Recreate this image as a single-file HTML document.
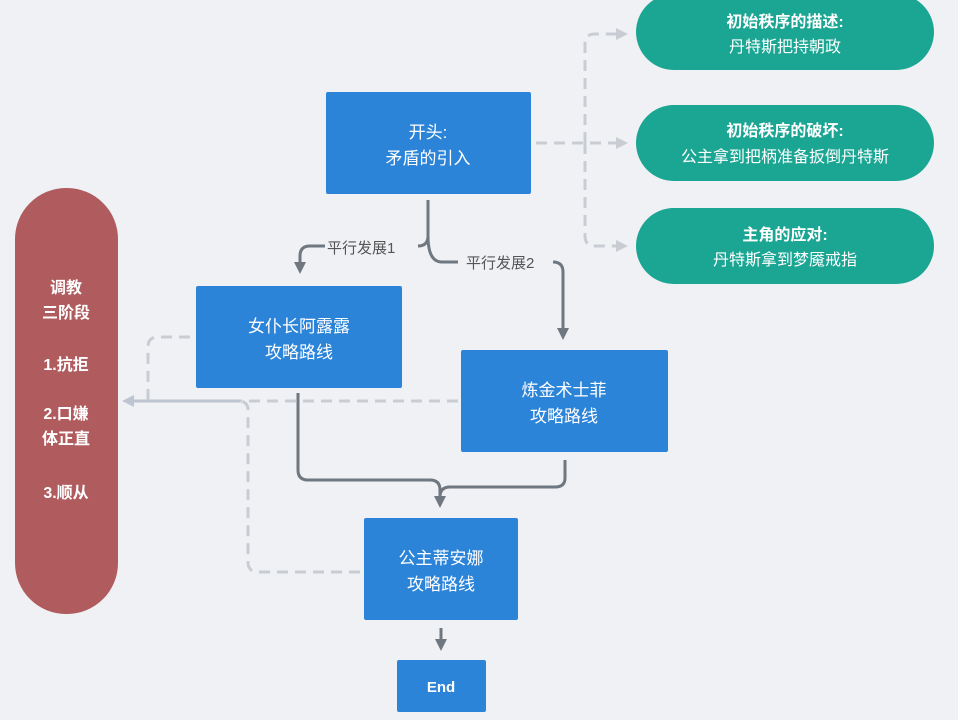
<!DOCTYPE html>
<html><head><meta charset="utf-8"><style>
html,body{margin:0;padding:0;background:#eff1f4;}
svg{display:block;font-family:"Liberation Sans","Noto Sans CJK SC",sans-serif;}
</style></head><body>
<svg width="958" height="720" viewBox="0 0 958 720" xmlns="http://www.w3.org/2000/svg">
<defs>
<marker id="ag" markerWidth="12" markerHeight="12" refX="6" refY="6" orient="auto" markerUnits="userSpaceOnUse"><path d="M0,0 L12,6 L0,12 z" fill="#6f7780"/></marker>
<marker id="al" markerWidth="12" markerHeight="12" refX="6" refY="6" orient="auto" markerUnits="userSpaceOnUse"><path d="M0,0 L12,6 L0,12 z" fill="#c9cdd3"/></marker>
<marker id="ab" markerWidth="12" markerHeight="12" refX="6" refY="6" orient="auto" markerUnits="userSpaceOnUse"><path d="M0,0 L12,6 L0,12 z" fill="#bcc5d0"/></marker>
</defs>
<rect width="958" height="720" fill="#eff1f4"/>

<g fill="none" stroke="#c9cdd3" stroke-width="3" stroke-dasharray="11,7">
<path d="M536,143 H622" marker-end="url(#al)"/>
<path d="M585,143 V44 Q585,34 595,34 H622" marker-end="url(#al)"/>
<path d="M585,143 V236 Q585,246 595,246 H622" marker-end="url(#al)"/>
</g>

<g fill="#1ba593">
<rect x="636" y="-6" width="298" height="76" rx="38"/>
<rect x="636" y="105" width="298" height="76" rx="38"/>
<rect x="636" y="208" width="298" height="76" rx="38"/>
</g>
<g fill="#fff" font-size="16" text-anchor="middle">
<text x="785" y="27" font-weight="bold">初始秩序的描述:</text>
<text x="785" y="52">丹特斯把持朝政</text>
<text x="785" y="136" font-weight="bold">初始秩序的破坏:</text>
<text x="785" y="162">公主拿到把柄准备扳倒丹特斯</text>
<text x="785" y="240" font-weight="bold">主角的应对:</text>
<text x="785" y="265">丹特斯拿到梦魇戒指</text>
</g>

<rect x="15" y="188" width="103" height="426" rx="51" fill="#b05b5e"/>
<g fill="#fff" font-size="16" text-anchor="middle" font-weight="bold">
<text x="66" y="293">调教</text>
<text x="66" y="318">三阶段</text>
<text x="66" y="370">1.抗拒</text>
<text x="66" y="419">2.口嫌</text>
<text x="66" y="444">体正直</text>
<text x="66" y="498">3.顺从</text>
</g>

<path d="M240,401 H128" stroke="#bcc5d0" stroke-width="3" fill="none" marker-end="url(#ab)"/>
<g fill="none" stroke="#c9cdd3" stroke-width="3" stroke-dasharray="11,7">
<path d="M458,401 H240"/>
<path d="M190,337 H158 Q148,337 148,347 V401"/>
<path d="M360,572 H258 Q248,572 248,562 V410 Q248,401 238,401"/>
</g>

<g fill="none" stroke="#6f7780" stroke-width="3">
<path d="M428,200 V236 Q428,246 418,246"/>
<path d="M325,246 H310 Q300,246 300,256 V268" marker-end="url(#ag)"/>
<path d="M428,236 Q428,262 442,262 H458"/>
<path d="M553,262 Q563,262 563,272 V334" marker-end="url(#ag)"/>
<path d="M298,393 V470 Q298,480 308,480 H430 Q440,480 440,490 V502" marker-end="url(#ag)"/>
<path d="M565,460 V478 Q565,487 555,487 H450 Q440,487 440,497"/>
<path d="M441,628 V645" marker-end="url(#ag)"/>
</g>
<g fill="#555" font-size="15">
<text x="327" y="253">平行发展1</text>
<text x="466" y="268">平行发展2</text>
</g>

<g fill="#2b84d8">
<rect x="326" y="92" width="205" height="102" rx="2"/>
<rect x="196" y="286" width="206" height="102" rx="2"/>
<rect x="461" y="350" width="207" height="102" rx="2"/>
<rect x="364" y="518" width="154" height="102" rx="2"/>
<rect x="397" y="660" width="89" height="52" rx="2"/>
</g>
<g fill="#fff" font-size="17" text-anchor="middle">
<text x="428" y="138">开头:</text>
<text x="428" y="164">矛盾的引入</text>
<text x="299" y="332">女仆长阿露露</text>
<text x="299" y="358">攻略路线</text>
<text x="564" y="396">炼金术士菲</text>
<text x="564" y="422">攻略路线</text>
<text x="441" y="564">公主蒂安娜</text>
<text x="441" y="590">攻略路线</text>
<text x="441" y="692" font-size="15" font-weight="bold">End</text>
</g>
</svg>
</body></html>
